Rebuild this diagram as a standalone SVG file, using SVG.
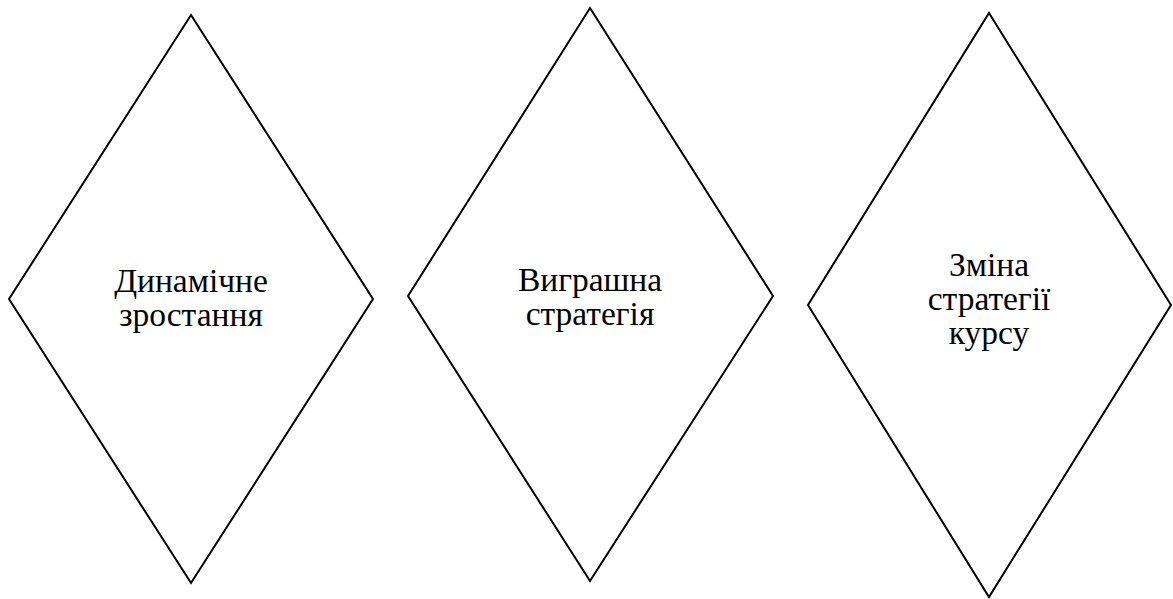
<svg xmlns="http://www.w3.org/2000/svg" width="1173" height="599" viewBox="0 0 1173 599">
<style>
polygon.d{fill:#fff;stroke:#000;stroke-width:2}
text{font-family:"Liberation Serif";font-size:33.5px;text-anchor:middle;fill:#000}
</style>
<rect width="1173" height="599" fill="#fff"/>
<g id="node1">
<polygon class="d" points="191,15 373,299 191,583 9,299"/>
<text x="191" y="292">Динамічне</text>
<text x="191" y="326">зростання</text>
</g>
<g id="node2">
<polygon class="d" points="590,8 773,296 590,581 408,296"/>
<text x="590" y="291">Виграшна</text>
<text x="590" y="325">стратегія</text>
</g>
<g id="node3">
<polygon class="d" points="989,13 1171,305 989,597 808,305"/>
<text x="989" y="276">Зміна</text>
<text x="989" y="310">стратегії</text>
<text x="989" y="344">курсу</text>
</g>
<g id="connectors"/>
</svg>
